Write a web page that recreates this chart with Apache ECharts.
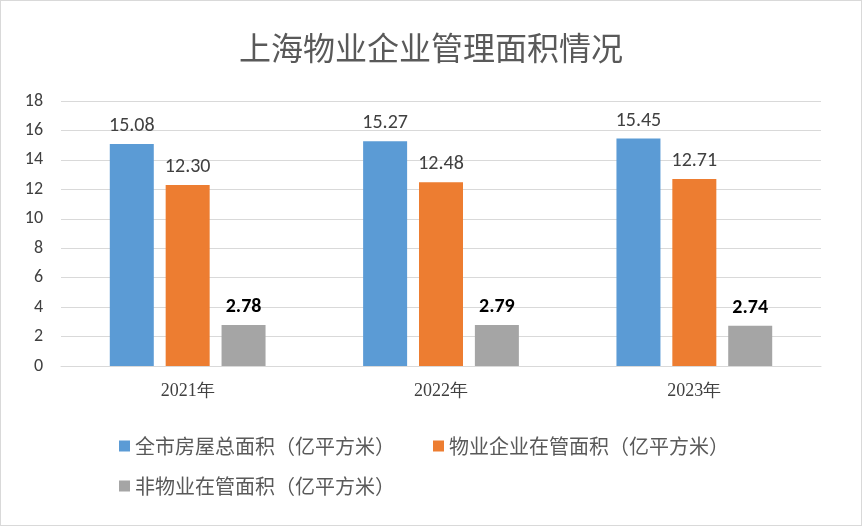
<!DOCTYPE html>
<html><head><meta charset="utf-8">
<script src="https://cdn.jsdelivr.net/npm/echarts@6/dist/echarts.min.js"></script>
<style>body{margin:0;background:#fff}#c{width:860px;height:524px;border:1px solid #d9d9d9}</style>
</head><body><div id="c"></div>
<script>
var years=['2021年','2022年','2023年'];
var totalArea=[15.08,15.27,15.45];
var mgmtArea=[12.30,12.48,12.71];
var otherArea=[2.78,2.79,2.74];
var names=['全市房屋总面积（亿平方米）','物业企业在管面积（亿平方米）','非物业在管面积（亿平方米）'];
var colors=['#5B9BD5','#ED7D31','#A5A5A5'];
var font='"Noto Sans CJK SC", sans-serif';

var chart=echarts.init(document.getElementById('c'));
function bar(i,data,bold){
	return {name:names[i],type:'bar',data:data,barWidth:44,barGap:'27%',
		itemStyle:{color:colors[i]},
		label:{show:true,position:'top',distance:8,formatter:function(p){return p.value.toFixed(2)},
			fontSize:20,fontFamily:'Calibri, "Liberation Sans", sans-serif',color:bold?'#000':'#404040',fontWeight:bold?'bold':'normal'}};
}
chart.setOption({
	animation:false,
	title:{text:'上海物业企业管理面积情况',left:'center',top:26,textStyle:{fontFamily:font,fontSize:32,fontWeight:'normal',color:'#595959'}},
	legend:[
		{data:[names[0],names[1]],left:113,top:430,itemWidth:11,itemHeight:11,icon:'rect',itemGap:38,textStyle:{fontFamily:font,fontSize:20,color:'#595959'}},
		{data:[names[2]],left:113,top:470,itemWidth:11,itemHeight:11,icon:'rect',textStyle:{fontFamily:font,fontSize:20,color:'#595959'}}
	],
	grid:{left:60,right:40,top:100,bottom:159},
	xAxis:{type:'category',data:years,axisTick:{show:false},axisLine:{lineStyle:{color:'#d9d9d9'}},
		axisLabel:{fontFamily:'"Liberation Serif", serif',fontSize:18,color:'#404040',margin:16}},
	yAxis:{type:'value',min:0,max:18,interval:2,axisLine:{show:false},axisTick:{show:false},
		splitLine:{lineStyle:{color:'#d9d9d9'}},axisLabel:{fontFamily:'Calibri, "Liberation Sans", sans-serif',fontSize:18,color:'#404040',margin:18}},
	series:[bar(0,totalArea,false),bar(1,mgmtArea,false),bar(2,otherArea,true)]
});
</script></body></html>
